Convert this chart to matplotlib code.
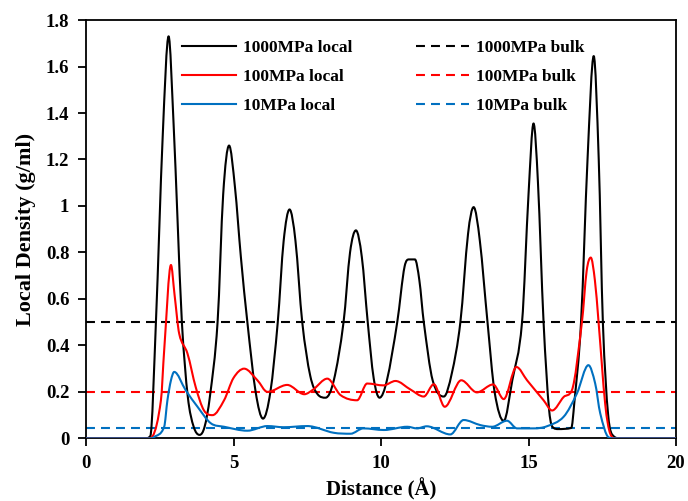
import matplotlib
matplotlib.use("Agg")
import numpy as np
import matplotlib.pyplot as plt
from matplotlib.path import Path
from matplotlib.patches import PathPatch
from matplotlib.lines import Line2D
from matplotlib.ticker import FuncFormatter

# --- Data ------------------------------------------------------------------
x_1000 = [0, 2.0, 2.18, 2.37, 2.6, 2.8, 2.97, 3.1, 3.25, 3.45, 3.65, 3.85, 4.02,
          4.2, 4.46, 4.65, 4.85, 5.05, 5.25, 5.47, 5.75, 6.0, 6.25, 6.5, 6.7,
          6.9, 7.1, 7.33, 7.6, 7.85, 8.12, 8.4, 8.73, 8.95, 9.15, 9.35, 9.55,
          9.75, 9.95, 10.2, 10.55, 10.8, 10.95, 11.15, 11.3, 11.45, 11.75, 12.13,
          12.4, 12.69, 12.95, 13.14, 13.35, 13.61, 13.85, 14.16, 14.45, 14.78,
          15.0, 15.17, 15.32, 15.51, 15.7, 15.85, 16.0, 16.45, 16.55, 16.78,
          17.0, 17.21, 17.38, 17.52, 17.7, 17.88, 18.1, 20]
y_1000 = [0, 0, 0.01, 0.5, 1.3, 1.73, 1.35, 0.95, 0.5, 0.18, 0.05, 0.015, 0.05,
          0.18, 0.5, 1.05, 1.26, 1.08, 0.78, 0.5, 0.2, 0.085, 0.2, 0.5, 0.85,
          0.985, 0.85, 0.5, 0.27, 0.19, 0.175, 0.25, 0.5, 0.8, 0.895, 0.78, 0.5,
          0.26, 0.175, 0.25, 0.5, 0.74, 0.77, 0.77, 0.68, 0.5, 0.25, 0.18,
          0.28, 0.5, 0.88, 0.995, 0.85, 0.5, 0.2, 0.075, 0.25, 0.5,
          1.05, 1.355, 1.1, 0.5, 0.12, 0.045, 0.04, 0.045, 0.15, 0.5,
          1.2, 1.645, 1.2, 0.5, 0.1, 0.01, 0, 0]

x_100 = [0, 2.1, 2.26, 2.54, 2.65, 2.88, 3.0, 3.16, 3.44, 3.72, 4.0, 4.29, 4.68,
         5.0, 5.36, 5.81, 6.15, 6.82, 7.4, 7.7, 8.18, 8.63, 9.19, 9.53, 10.08,
         10.49, 11.0, 11.45, 11.79, 12.16, 12.72, 13.25, 13.8, 14.16, 14.59,
         14.95, 15.51, 15.8, 16.19, 16.47, 16.81, 16.97, 17.11, 17.25, 17.37,
         17.6, 17.77, 17.95, 20]
y_100 = [0, 0, 0.01, 0.164, 0.379, 0.746, 0.62, 0.45, 0.365, 0.22, 0.12, 0.1, 0.164,
         0.26, 0.3, 0.25, 0.2, 0.23, 0.19, 0.21, 0.257, 0.186, 0.164, 0.236, 0.228,
         0.247, 0.21, 0.18, 0.233, 0.136, 0.25, 0.198, 0.232, 0.169, 0.307,
         0.25, 0.164, 0.12, 0.178, 0.207, 0.5, 0.72, 0.778, 0.68, 0.507,
         0.147, 0.02, 0, 0]

x_10 = [0, 2.15, 2.3, 2.65, 2.76, 2.88, 2.99, 3.38, 3.78, 4.23, 4.68, 5.47, 6.15,
        6.7, 7.5, 8.4, 8.97, 9.4, 10.1, 10.89, 11.22, 11.55, 12.35, 12.8, 13.37,
        13.77, 14.27, 14.61, 15.18, 15.62, 16.19, 16.64, 17.03, 17.26, 17.43,
        17.71, 17.9, 20]
y_10 = [0, 0, 0.005, 0.05, 0.164, 0.25, 0.286, 0.207, 0.136, 0.065, 0.05, 0.033, 0.053,
        0.048, 0.053, 0.024, 0.02, 0.043, 0.036, 0.05, 0.043, 0.052, 0.017, 0.079, 0.057,
        0.05, 0.076, 0.043, 0.043, 0.052, 0.093, 0.193, 0.315, 0.236, 0.108,
        0.005, 0, 0]

bulk_values = [0.5, 0.2, 0.045]
labels_local = ["1000MPa local", "100MPa local", "10MPa local"]
labels_bulk = ["1000MPa bulk", "100MPa bulk", "10MPa bulk"]
colors = ["black", "#ff0000", "#0070c0"]

plt.rcParams["font.family"] = ["Liberation Serif", "DejaVu Serif"]
plt.rcParams["font.weight"] = "bold"


def smooth_path(xs, ys):
    # cardinal-style cubic through the points (smoothed line), tangents clamped
    # so the curve does not overshoot between the read values
    xs = np.asarray(xs, float)
    ys = np.asarray(ys, float)
    h = np.diff(xs)
    d = np.diff(ys) / h
    m = np.zeros_like(xs)
    m[0], m[-1] = d[0], d[-1]
    for i in range(1, len(xs) - 1):
        if d[i - 1] * d[i] <= 0:
            m[i] = 0
        else:
            c = (ys[i + 1] - ys[i - 1]) / (xs[i + 1] - xs[i - 1])
            lim = 3 * min(abs(d[i - 1]), abs(d[i]))
            m[i] = np.sign(c) * min(abs(c), lim)
    verts = [(xs[0], ys[0])]
    codes = [Path.MOVETO]
    for i in range(len(xs) - 1):
        verts += [(xs[i] + h[i] / 3, ys[i] + m[i] * h[i] / 3),
                  (xs[i + 1] - h[i] / 3, ys[i + 1] - m[i + 1] * h[i] / 3),
                  (xs[i + 1], ys[i + 1])]
        codes += [Path.CURVE4] * 3
    return Path(verts, codes)


fig = plt.figure(figsize=(6.88, 5.01), dpi=100)
ax = fig.add_axes([0.125, 0.125, 0.8576, 0.835])

dash = (0, (4.3, 2.9))
series = [(x_1000, y_1000), (x_100, y_100), (x_10, y_10)]
for (xs, ys), c in zip(series, colors):
    ax.add_patch(PathPatch(smooth_path(xs, ys), fill=False, edgecolor=c, lw=1.5,
                           capstyle="round", joinstyle="round", zorder=3))
for v, c in zip(bulk_values, colors):
    ax.axhline(v, color=c, lw=1.5, linestyle=dash, zorder=2)

ax.set_xlim(0, 20)
ax.set_ylim(0, 1.8)
ax.set_xticks([0, 5, 10, 15, 20])
ax.set_yticks(np.arange(0, 1.81, 0.2))
ax.yaxis.set_major_formatter(FuncFormatter(lambda v, p: f"{v:g}"))
ax.tick_params(direction="out", length=6, width=1.3, labelsize=13.5)
ax.tick_params(axis="y", pad=6)
ax.tick_params(axis="x", pad=6)
for s in ax.spines.values():
    s.set_linewidth(1.3)

ax.set_xlabel("Distance (Å)", fontsize=15, fontweight="bold", labelpad=4)
ax.set_ylabel("Local Density (g/ml)", fontsize=16, fontweight="bold", labelpad=7)

handles = [Line2D([0], [0], color=c, lw=1.5) for c in colors]
handles += [Line2D([0], [0], color=c, lw=1.5, linestyle=dash) for c in colors]
ax.legend(handles, labels_local + labels_bulk, ncol=2, frameon=False,
          loc="upper left", bbox_to_anchor=(0.1627, 0.952), borderaxespad=0,
          borderpad=0, handlelength=3.1, handletextpad=0.4,
          columnspacing=3.65, labelspacing=0.72,
          prop={"weight": "bold", "size": 12.5})

fig.savefig("out.png", dpi=100)
